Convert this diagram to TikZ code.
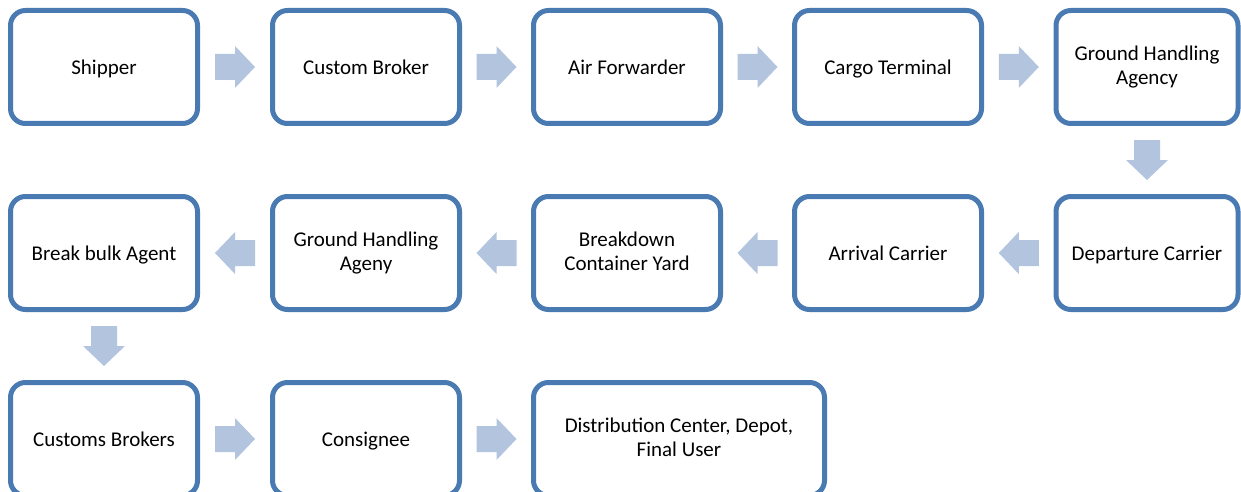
\documentclass[tikz,border=0pt]{standalone}
\usepackage{fontspec}
\setmainfont{Carlito}
\usetikzlibrary{calc}
\definecolor{boxline}{HTML}{4A7AB2}
\definecolor{arrowfill}{HTML}{B3C4DF}
% invisible rule that gives every label line the same height and depth
\newcommand\stagestrut{\rule[-4.4pt]{0pt}{24.4pt}}
\tikzset{
  stage/.style={draw=boxline, line width=5pt, rounded corners=15pt, fill=white,
    minimum width=187pt, minimum height=113pt, inner sep=2pt, align=center,
    font=\fontsize{21pt}{24pt}\selectfont, text=black,
    execute at begin node=\stagestrut, execute at end node=\stagestrut},
  flowarrow/.pic={\fill[arrowfill] (-20,-13) -- (0,-13) -- (0,-21) -- (20,0)
    -- (0,21) -- (0,13) -- (-20,13) -- cycle;}
}
\begin{document}
\begin{tikzpicture}[x=1pt, y=-1pt]
\useasboundingbox (0,0) rectangle (1241,492);
\clip (0,0) rectangle (1241,492);
% first row, left to right
\node[stage] (shipper) at (104,67) {Shipper};
\node[stage] (broker)  at (366,67) {Custom Broker};
\node[stage] (forward) at (627,67) {Air Forwarder};
\node[stage] (cargo)   at (888,67) {Cargo Terminal};
\node[stage, minimum width=182pt] (gha) at (1147,67) {Ground Handling\\Agency};
% second row, right to left
\node[stage, minimum width=182pt] (depart) at (1147,253) {Departure Carrier};
\node[stage] (arrive)    at (888,253) {Arrival Carrier};
\node[stage] (breakdown) at (627,253) {Breakdown\\Container Yard};
\node[stage] (ghb)       at (366,253) {Ground Handling\\Ageny};
\node[stage] (bulk)      at (104,253) {Break bulk Agent};
% third row, left to right
\node[stage] (customs)   at (104,439) {Customs Brokers};
\node[stage] (consignee) at (366,439) {Consignee};
\node[stage, minimum width=291pt] (dist) at (679,439) {Distribution Center, Depot,\\Final User};
% block arrows between the stages
\path ($(shipper.east)!0.5!(broker.west)$) pic {flowarrow};
\path ($(broker.east)!0.5!(forward.west)$) pic {flowarrow};
\path ($(forward.east)!0.5!(cargo.west)$) pic {flowarrow};
\path ($(cargo.east)!0.5!(gha.west)$) pic {flowarrow};
\path ($(gha.south)!0.5!(depart.north)$) pic[rotate=-90] {flowarrow};
\path ($(depart.west)!0.5!(arrive.east)$) pic[rotate=180] {flowarrow};
\path ($(arrive.west)!0.5!(breakdown.east)$) pic[rotate=180] {flowarrow};
\path ($(breakdown.west)!0.5!(ghb.east)$) pic[rotate=180] {flowarrow};
\path ($(ghb.west)!0.5!(bulk.east)$) pic[rotate=180] {flowarrow};
\path ($(bulk.south)!0.5!(customs.north)$) pic[rotate=-90] {flowarrow};
\path ($(customs.east)!0.5!(consignee.west)$) pic {flowarrow};
\path ($(consignee.east)!0.5!(dist.west)$) pic {flowarrow};
\end{tikzpicture}
\end{document}
